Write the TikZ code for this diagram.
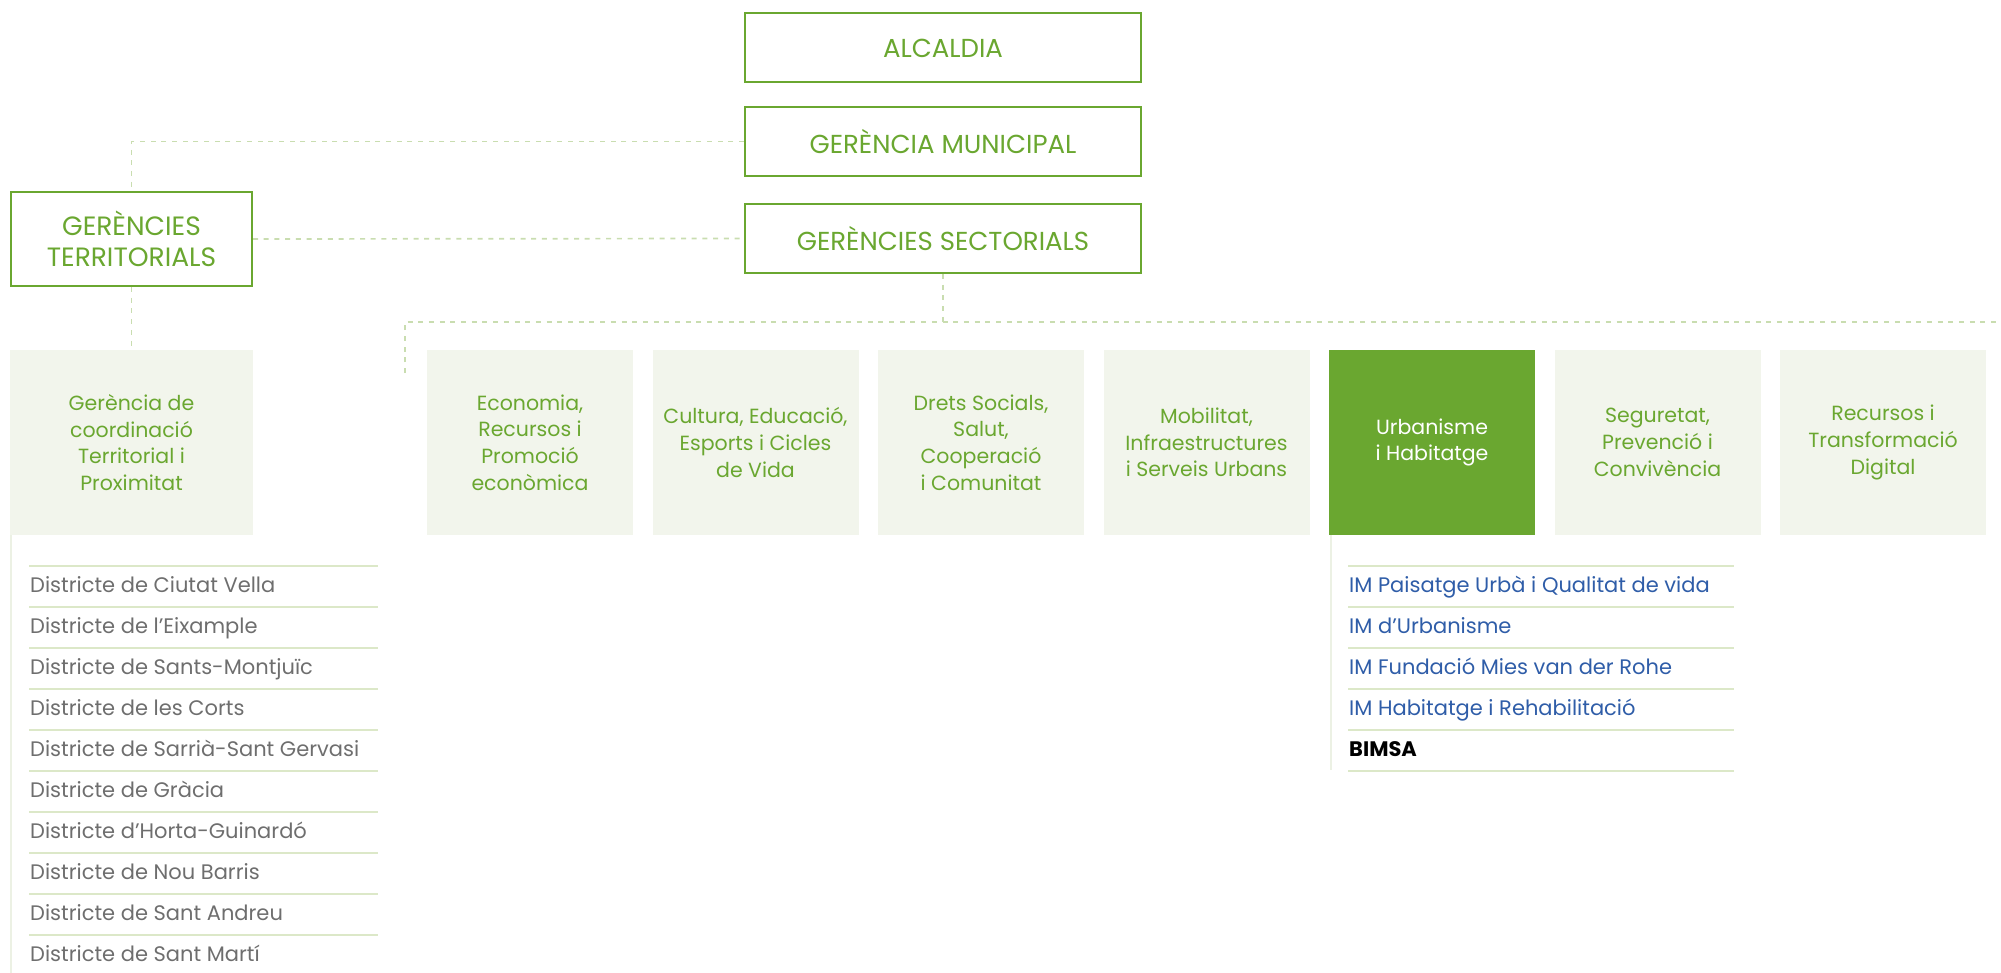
\documentclass[tikz,border=0pt]{standalone}
\usepackage{fontspec}
\setmainfont{Poppins}
\definecolor{grn}{RGB}{106,167,48}
\definecolor{lbox}{RGB}{242,245,236}
\definecolor{dashc}{RGB}{201,221,176}
\definecolor{sepc}{RGB}{220,232,200}
\definecolor{vlc}{RGB}{236,241,228}
\definecolor{graytxt}{RGB}{110,110,110}
\definecolor{bluetxt}{RGB}{47,93,168}
\begin{document}
\begin{tikzpicture}[x=1pt,y=-1pt,
  topbox/.style={draw=grn,line width=2pt,fill=white,minimum width=396pt,minimum height=69pt,inner sep=0pt,text=grn,font=\fontsize{26}{30}\selectfont},
  terrbox/.style={draw=grn,line width=2pt,fill=white,minimum width=241pt,minimum height=94pt,inner sep=0pt,text=grn,align=center,font=\fontsize{26.5}{31.3}\selectfont},
  areabox/.style={fill=lbox,minimum width=206pt,minimum height=185pt,inner sep=0pt,text=grn,align=center,font=\fontsize{20.5}{26.7}\selectfont},
  hlbox/.style={areabox,fill=grn,text=white},
  conn/.style={draw=dashc,line width=1.7pt,dash pattern=on 5pt off 5.7pt},
  sepline/.style={draw=sepc,line width=2pt},
  vline/.style={draw=vlc,line width=2.5pt},
  distr/.style={anchor=base west,inner sep=0pt,text=graytxt,font=\fontsize{21}{26}\selectfont},
  imtxt/.style={anchor=base west,inner sep=0pt,text=bluetxt,font=\fontsize{21}{26}\selectfont},
]
\useasboundingbox (0,0) rectangle (2001,973);
% top boxes
\node[topbox] (alc) at (943,48) {ALCALDIA};
\node[topbox] (gm) at (943,141.5) {GERÈNCIA MUNICIPAL};
\node[topbox] (gs) at (943,238.5) {GERÈNCIES SECTORIALS};
\node[terrbox] (gt) at (131.5,239) {GERÈNCIES\\TERRITORIALS};
% area boxes
\node[areabox,minimum width=243pt] (gctp) at (131.5,442.5) {Gerència de\\coordinació\\Territorial i\\Proximitat};
\node[areabox] (eco) at (530,442.5) {Economia,\\Recursos i\\Promoció\\econòmica};
\node[areabox] (cul) at (755.5,442.5) {Cultura, Educació,\\Esports i Cicles\\de Vida};
\node[areabox] (dre) at (981,442.5) {Drets Socials,\\Salut,\\Cooperació\\i Comunitat};
\node[areabox] (mob) at (1206.5,442.5) {Mobilitat,\\Infraestructures\\i Serveis Urbans};
\node[hlbox] (urb) at (1432,442.5) {Urbanisme\\i Habitatge};
\node[areabox] (seg) at (1657.5,442.5) {Seguretat,\\Prevenció i\\Convivència};
\node[areabox] (rec) at (1883,442.5) {Recursos i\\Transformació\\Digital};
% connectors
\coordinate (hl) at (405,322);
\coordinate (hr) at (2001,322);
\coordinate (hd) at (405,373);
\draw[conn] (gm.west) -| (gt.north);
\draw[conn] (gt.east) -- (gs.west);
\draw[conn] (gt.south) -- (gctp.north);
\draw[conn] (gs.south) -- (gs.south |- hl);
\draw[conn] (hd) -- (hl) -- (hr);
% left list
\coordinate (lt) at (11,535);
\coordinate (lb) at (11,973);
\draw[vline] (lt) -- (lb);
\foreach \i/\t in {0/{Districte de Ciutat Vella},1/{Districte de l’Eixample},2/{Districte de Sants-Montjuïc},3/{Districte de les Corts},4/{Districte de Sarrià-Sant Gervasi},5/{Districte de Gràcia},6/{Districte d’Horta-Guinardó},7/{Districte de Nou Barris},8/{Districte de Sant Andreu},9/{Districte de Sant Martí}}{
  \draw[sepline] (29,565.7+41*\i) -- (378,565.7+41*\i);
  \node[distr] (d\i) at (30,592.3+41*\i) {\t};
}
% right list
\coordinate (rt) at (1331,535);
\coordinate (rb) at (1331,770);
\draw[vline] (rt) -- (rb);
\foreach \i in {0,...,5}{
  \draw[sepline] (1348,565.7+41*\i) -- (1734,565.7+41*\i);
}
\node[imtxt] (im0) at (1349,592.3) {IM Paisatge Urbà i Qualitat de vida};
\node[imtxt] (im1) at (1349,633.3) {IM d’Urbanisme};
\node[imtxt] (im2) at (1349,674.3) {IM Fundació Mies van der Rohe};
\node[imtxt] (im3) at (1349,715.3) {IM Habitatge i Rehabilitació};
\node[imtxt,text=black,font=\fontsize{21}{26}\selectfont\bfseries] (im4) at (1349,756.3) {BIMSA};
\end{tikzpicture}
\end{document}
